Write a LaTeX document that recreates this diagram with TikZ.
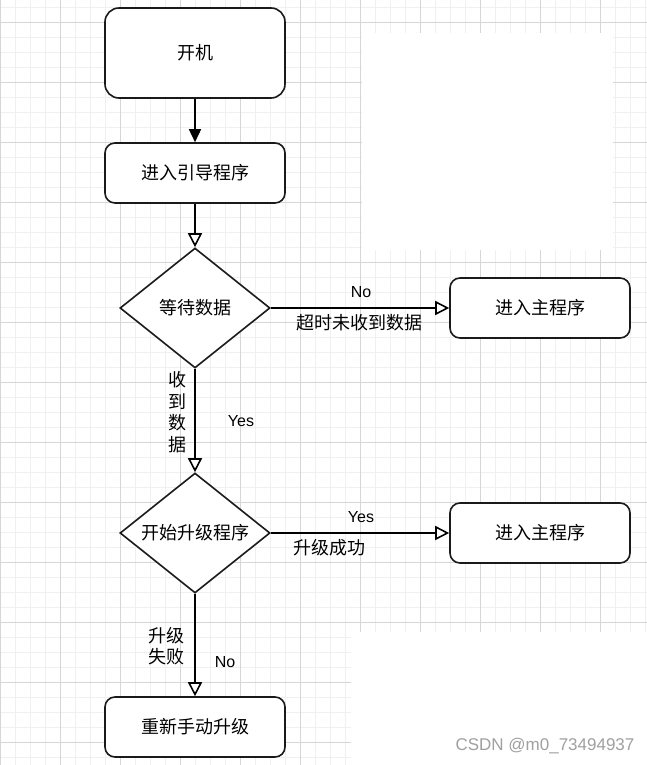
\documentclass[tikz,border=0pt]{standalone}
\usepackage{fontspec}
\setmainfont{Liberation Sans}
\newfontfamily\cjk{Noto Sans CJK SC}
\usetikzlibrary{shapes.geometric,arrows.meta}
\definecolor{gminor}{HTML}{F0F0F0}
\definecolor{gmajor}{HTML}{D6D6D6}
\definecolor{edgec}{HTML}{1A1A1A}
\definecolor{wmark}{HTML}{A0A0A0}
\begin{document}
\begin{tikzpicture}[x=1pt,y=-1pt,
  minorline/.style={draw=gminor, line width=0.8pt},
  majorline/.style={draw=gmajor, line width=0.9pt},
  procbox/.style={draw=edgec, line width=1.6pt, rounded corners=10pt, fill=white,
    minimum width=180pt, minimum height=60pt, inner sep=0pt,
    font=\cjk\fontsize{18}{20}\selectfont},
  bigbox/.style={procbox, minimum height=90pt, rounded corners=14pt},
  decision/.style={draw=edgec, line width=1.6pt, diamond, fill=white,
    minimum width=150pt, minimum height=120pt, inner sep=0pt},
  cjklabel/.style={font=\cjk\fontsize{18}{20}\selectfont, inner sep=0pt},
  vlabel/.style={font=\cjk\fontsize{18}{21.5}\selectfont, inner sep=0pt, align=center},
  latlabel/.style={font=\fontsize{16}{18}\selectfont, inner sep=0pt},
  flow/.style={draw=black, line width=1.6pt},
  solidtip/.style={-{Triangle[length=13pt,width=12pt]}},
  opentip/.style={-{Triangle[fill=white,length=14pt,width=14pt]}}
]
\useasboundingbox (0,0) rectangle (647,765);
\fill[white] (0,0) rectangle (647,765);
% grid
\foreach \i in {0,...,43} {\draw[minorline] (0.7+15*\i,0) -- (0.7+15*\i,765);}
\foreach \i in {0,...,51} {\draw[minorline] (0,7.5+15*\i) -- (647,7.5+15*\i);}
\foreach \i in {0,...,10} {\draw[majorline] (0.7+60*\i,0) -- (0.7+60*\i,765);}
\foreach \i in {0,...,12} {\draw[majorline] (0,22.5+60*\i) -- (647,22.5+60*\i);}
% blank patches of the screenshot
\fill[white] (362,33) rectangle (613,250);
\fill[white] (351,632) rectangle (647,765);

% nodes
\node[bigbox] (start) at (195,53) {开机};
\node[procbox] (guide) at (195,173) {进入引导程序};
\node[decision] (wait) at (195,308) {};
\node[cjklabel] (waitt) at (wait.center) {等待数据};
\node[procbox] (main1) at (540,308) {进入主程序};
\node[decision] (upg) at (195,533) {};
\node[cjklabel] (upgt) at (upg.center) {开始升级程序};
\node[procbox] (main2) at (540,533) {进入主程序};
\node[procbox] (manual) at (195,727) {重新手动升级};

% connectors
\draw[flow, solidtip] (start) -- (guide);
\draw[flow, opentip] (guide) -- (wait.north);
\draw[flow, opentip] (wait.east) -- (main1.west);
\draw[flow, opentip] (wait.south) -- (upg.north);
\draw[flow, opentip] (upg.east) -- (main2.west);
\draw[flow, opentip] (upg.south) -- (manual.north);

% labels
\node[latlabel] (no1) at (361,292) {No};
\node[cjklabel] (timeout) at (359,323) {超时未收到数据};
\node[vlabel] (recv) at (177,412) {收\\到\\数\\据};
\node[latlabel] (yes1) at (241,421) {Yes};
\node[latlabel] (yes2) at (361,517) {Yes};
\node[cjklabel] (ok) at (329,548) {升级成功};
\node[vlabel] (fail) at (166,646) {升级\\失败};
\node[latlabel] (no2) at (225,662) {No};
\node[font=\fontsize{17}{19}\selectfont, text=wmark, inner sep=0pt] (wm) at (545,746) {CSDN @m0\_73494937};
\end{tikzpicture}
\end{document}
